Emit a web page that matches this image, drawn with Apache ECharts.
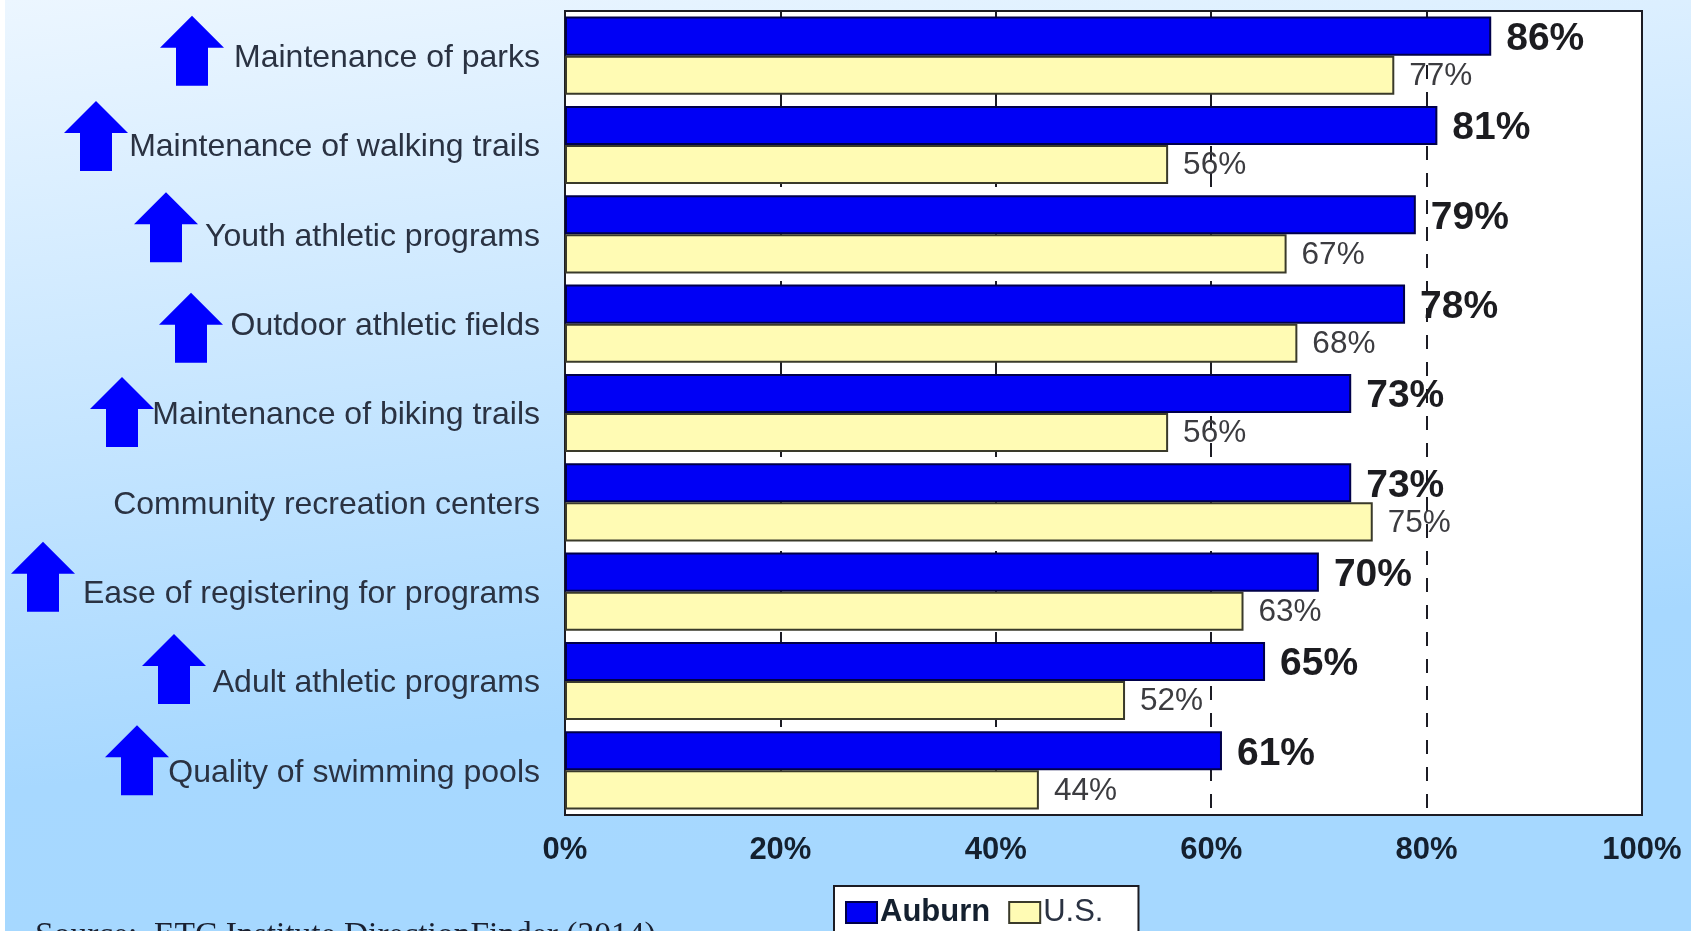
<!DOCTYPE html>
<html>
<head>
<meta charset="utf-8">
<title>Parks and recreation satisfaction</title>
<style>
  html, body { margin: 0; padding: 0; background: #fff; overflow: hidden; }
  #chart { width: 1691px; height: 931px; }
</style>
<script src="https://cdn.jsdelivr.net/npm/echarts@6/dist/echarts.min.js"></script>
</head>
<body>
<div id="chart"></div>
<script>
const categories = [
  'Maintenance of parks',
  'Maintenance of walking trails',
  'Youth athletic programs',
  'Outdoor athletic fields',
  'Maintenance of biking trails',
  'Community recreation centers',
  'Ease of registering for programs',
  'Adult athletic programs',
  'Quality of swimming pools'
];
const auburn = [86, 81, 79, 78, 73, 73, 70, 65, 61];
const us = [77, 56, 67, 68, 56, 75, 63, 52, 44];
const xTicks = [0, 20, 40, 60, 80, 100];

// Arrows beside the rows where Auburn leads: row index, centre x, shift from the row centre.
const arrowRows = [
  [0, 192, -5], [1, 96, -9], [2, 166, -7], [3, 191, 4], [4, 122, -1],
  [6, 43, -15], [7, 174, -12], [8, 137, -10]
];

const FONT = '"Liberation Sans", Arial, sans-serif';
const chart = echarts.init(document.getElementById('chart'), null, { renderer: 'canvas' });

const barSeries = (name, data, fill, stroke, labelFont, labelColor, labelOffset) => ({
  name,
  type: 'bar',
  data,
  barGap: 0,
  barCategoryGap: '12.5%',
  itemStyle: { color: fill, borderColor: stroke, borderWidth: 2 },
  label: {
    show: true,
    position: 'right',
    distance: 15,
    offset: labelOffset,
    formatter: '{c}%',
    color: labelColor,
    fontFamily: FONT,
    ...labelFont
  },
  z: 3
});

chart.setOption({
  animation: false,
  backgroundColor: {
    type: 'linear', x: 0, y: 0, x2: 0.06, y2: 1,
    colorStops: [
      { offset: 0, color: '#ecf6ff' },
      { offset: 0.84, color: '#a7d8ff' },
      { offset: 1, color: '#a6d8ff' }
    ]
  },
  grid: {
    left: 565, top: 11, width: 1077, height: 804,
    show: true, backgroundColor: '#ffffff', borderColor: '#1c1c24', borderWidth: 2
  },
  xAxis: {
    type: 'value',
    min: xTicks[0],
    max: xTicks[xTicks.length - 1],
    interval: xTicks[1] - xTicks[0],
    axisLine: { show: false },
    axisTick: { show: false },
    axisLabel: {
      formatter: '{value}%', margin: 20,
      color: '#14202f', fontFamily: FONT, fontWeight: 'bold', fontSize: 31
    },
    splitLine: {
      show: true,
      showMinLine: false,
      showMaxLine: false,
      lineStyle: { color: '#1c1c24', width: 2, type: [14, 13] }
    }
  },
  yAxis: {
    type: 'category',
    data: categories,
    inverse: true,
    axisLine: { show: false },
    axisTick: { show: false },
    axisLabel: {
      margin: 25,
      formatter: (name) => `{row|${name}}`,
      rich: {
        row: { color: '#2a3242', fontFamily: FONT, fontSize: 32, padding: [5, 0, 0, 0] }
      }
    }
  },
  legend: {
    left: 834, top: 886,
    orient: 'horizontal',
    padding: [11, 35, 30, 11],
    itemGap: 18,
    itemWidth: 31,
    itemHeight: 21,
    itemStyle: { borderWidth: 2 },
    backgroundColor: '#ffffff',
    borderColor: '#1c1c24',
    borderWidth: 2,
    selectedMode: false,
    data: [
      { name: 'Auburn', icon: 'rect', textStyle: { fontWeight: 'bold', fontSize: 31, color: '#14202f', fontFamily: FONT, padding: [0, 0, 0, -2] } },
      { name: 'U.S.', icon: 'rect', textStyle: { fontSize: 31, color: '#2a3242', fontFamily: FONT, padding: [0, 0, 0, -2] } }
    ]
  },
  series: [
    barSeries('Auburn', auburn, '#0000f5', '#00004a', { fontSize: 39, fontWeight: 'bold' }, '#1c1c20', [0, 3]),
    barSeries('U.S.', us, '#fffbb4', '#3a3a2a', { fontSize: 31.5 }, '#3c3c40', [0, 1])
  ]
});

// Arrow outline, relative to its centre.
const arrowOutline = [[0, -35], [32, -3], [16, -3], [16, 35], [-16, 35], [-16, -3], [-32, -3]];

chart.setOption({
  graphic: [
    {
      type: 'rect', silent: true,
      shape: { x: 0, y: 0, width: 5, height: 931 },
      style: { fill: '#ffffff' }
    },
    ...arrowRows.map(([row, cx, shift]) => ({
      type: 'polygon', silent: true,
      x: cx,
      y: chart.convertToPixel({ yAxisIndex: 0 }, categories[row]) + shift,
      shape: { points: arrowOutline },
      style: { fill: '#0000ff' }
    })),
    {
      type: 'text', silent: true,
      x: 35, y: 919,
      style: {
        text: 'Source:  ETC Institute DirectionFinder (2014)',
        fill: '#1a2030', font: '33.5px "Liberation Serif", "Times New Roman", serif'
      }
    }
  ]
});
</script>
</body>
</html>
